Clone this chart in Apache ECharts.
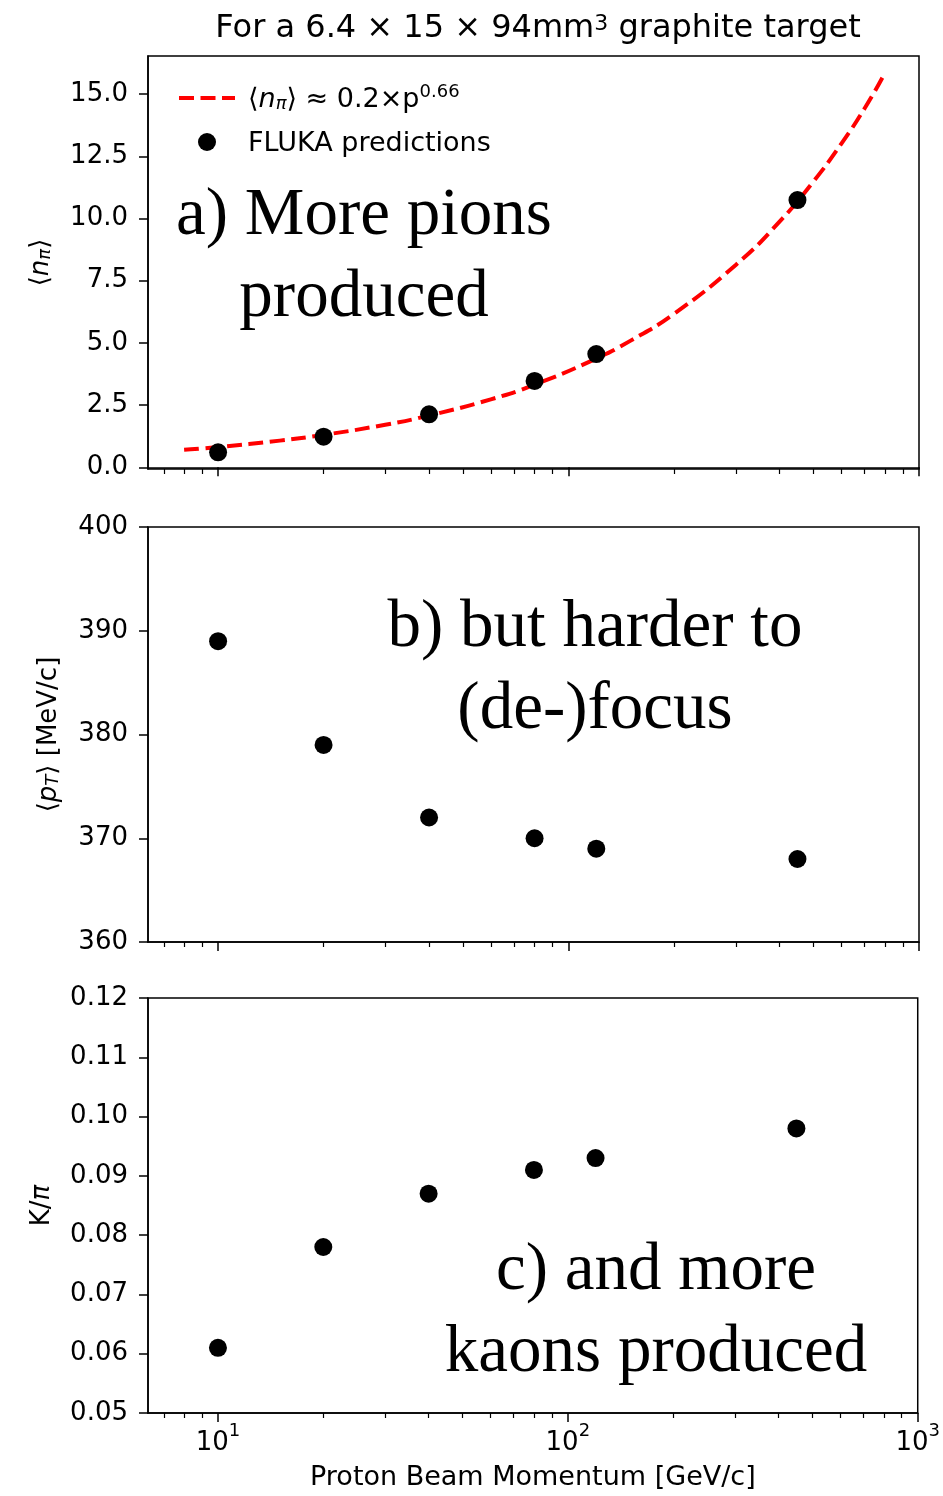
<!DOCTYPE html>
<html>
<head>
<meta charset="utf-8">
<script src="https://cdn.jsdelivr.net/npm/echarts@6/dist/echarts.min.js"></script>
<style>
  html, body { margin: 0; padding: 0; background: #ffffff; }
  #chart { width: 943px; height: 1496px; }
</style>
</head>
<body>
<div id="chart"></div>
<script>
// Proton beam momenta simulated (GeV/c)
const momentum = [10, 20, 40, 80, 120, 450];
// FLUKA: mean pion multiplicity per proton
const pionMultiplicity = [0.60, 1.23, 2.13, 3.47, 4.55, 10.74];
// FLUKA: mean transverse momentum of pions (MeV/c)
const meanPt = [389, 379, 372, 370, 369, 368];
// FLUKA: kaon to pion ratio
const kaonPionRatio = [0.061, 0.078, 0.087, 0.091, 0.093, 0.098];

// Power-law fit curve, <n_pi> ~ 0.2 x p^0.66
const fitMomentum = [8, 10, 15, 20, 30, 40, 60, 80, 120, 150, 200, 300, 400, 500, 600, 700, 787];
const fitMultiplicity = [0.70, 0.81, 1.07, 1.30, 1.71, 2.08, 2.73, 3.32, 4.37, 5.08, 6.17, 8.13, 9.87, 11.49, 13.00, 14.43, 15.67];

// Tick values
const momentumMajorTicks = [10, 100, 1000];
const momentumMinorTicks = [7, 8, 9, 20, 30, 40, 50, 60, 70, 80, 90, 200, 300, 400, 500, 600, 700, 800, 900];
const pionTicks = [0, 2.5, 5, 7.5, 10, 12.5, 15];
const ptTicks = [360, 370, 380, 390, 400];
const ratioTicks = [0.05, 0.06, 0.07, 0.08, 0.09, 0.10, 0.11, 0.12];

const SANS = 'DejaVu Sans';
const INK = '#000000';
const TICK_FONT = 26;
const FIT_DASH = { color: '#ff0000', width: 4, type: [15, 6.5] };

const grids = [
  { left: 148, top: 56, width: 771, height: 413 },
  { left: 148, top: 527, width: 771, height: 415 },
  { left: 148, top: 998, width: 771, height: 415 }
];

const supLabel = function (v) {
  const e = Math.round(Math.log10(v));
  return '{b|10}{s|' + e + '}';
};

function xAxesFor(gridIndex, withLabels) {
  const major = {
    type: 'log', logBase: 10, gridIndex: gridIndex,
    min: 6.31, max: 1000,
    position: 'bottom',
    axisLine: { show: true, lineStyle: { color: INK, width: 1.5 } },
    splitLine: { show: false },
    axisTick: { show: true, inside: false, length: 9, customValues: momentumMajorTicks,
                lineStyle: { color: INK, width: 1.5 } },
    axisLabel: {
      show: withLabels, customValues: momentumMajorTicks, margin: 9,
      formatter: supLabel,
      rich: {
        b: { fontFamily: SANS, fontSize: TICK_FONT, color: INK, lineHeight: 34, verticalAlign: 'bottom' },
        s: { fontFamily: SANS, fontSize: 18, color: INK, lineHeight: 20, verticalAlign: 'top' }
      }
    }
  };
  if (withLabels) {
    major.name = 'Proton Beam Momentum [GeV/c]';
    major.nameLocation = 'middle';
    major.nameGap = 51;
    major.nameTextStyle = { fontFamily: SANS, fontSize: 27, color: INK };
  }
  const minor = {
    type: 'log', logBase: 10, gridIndex: gridIndex,
    min: 6.31, max: 1000,
    position: 'bottom',
    axisLine: { show: false },
    splitLine: { show: false },
    axisTick: { show: true, inside: false, length: 5, customValues: momentumMinorTicks,
                lineStyle: { color: INK, width: 1.2 } },
    axisLabel: { show: false }
  };
  return [major, minor];
}

const mathRich = {
  it: { fontFamily: SANS, fontStyle: 'italic', fontSize: 26, color: INK },
  sub: { fontFamily: SANS, fontStyle: 'italic', fontSize: 18, color: INK, verticalAlign: 'bottom', lineHeight: 16 },
  n: { fontFamily: SANS, fontSize: 26, color: INK }
};

function yAxisFor(gridIndex, min, max, ticks, fmt, name, nameGap) {
  return {
    type: 'value', gridIndex: gridIndex, min: min, max: max,
    axisLine: { show: true, lineStyle: { color: INK, width: 1.5 } },
    splitLine: { show: false },
    axisTick: { show: true, inside: false, length: 9, customValues: ticks,
                lineStyle: { color: INK, width: 1.5 } },
    axisLabel: { customValues: ticks, margin: 20, formatter: fmt,
                 fontFamily: SANS, fontSize: TICK_FONT, color: INK },
    name: name, nameLocation: 'middle', nameRotate: 90, nameGap: nameGap,
    nameTextStyle: { fontFamily: SANS, fontSize: 26, color: INK, rich: mathRich }
  };
}

const xAxes = [].concat(xAxesFor(0, false), xAxesFor(1, false), xAxesFor(2, true));

const yAxes = [
  yAxisFor(0, -0.07, 16.53, pionTicks, function (v) { return v.toFixed(1); },
           '{n|⟨}{it|n}{sub|π}{n|⟩}', 94),
  yAxisFor(1, 360, 400, ptTicks, function (v) { return String(Math.round(v)); },
           '{n|⟨}{it|p}{sub|T}{n|⟩ [MeV/c]}', 86),
  yAxisFor(2, 0.05, 0.12, ratioTicks, function (v) { return v.toFixed(2); },
           '{n|K/}{it|π}', 93)
];

function zip(xs, ys) { return xs.map(function (x, i) { return [x, ys[i]]; }); }

const dotStyle = { color: INK, opacity: 1 };
const ANNOT_FONT = '67px "Liberation Serif"';

const option = {
  backgroundColor: '#ffffff',
  animation: false,
  title: {
    text: 'For a 6.4 × 15 × 94mm{s|3} graphite target',
    left: 533, top: 8, textAlign: 'center',
    textStyle: {
      fontFamily: SANS, fontSize: 32, fontWeight: 'normal', color: INK,
      rich: {
        s: { fontFamily: SANS, fontSize: 22, color: INK, verticalAlign: 'top', lineHeight: 22 }
      }
    }
  },
  legend: {
    show: true,
    left: 172, top: 78, orient: 'vertical',
    itemWidth: 56, itemHeight: 18, itemGap: 17,
    data: [
      { name: 'fit', itemStyle: { opacity: 0 }, lineStyle: FIT_DASH },
      'FLUKA predictions'
    ],
    formatter: function (name) {
      if (name === 'fit') return '{n|⟨}{it|n}{sub|π}{n|⟩ ≈ 0.2×p}{sup|0.66}';
      return '{n|' + name + '}';
    },
    textStyle: {
      padding: [0, 0, 0, 8],
      rich: {
        n: { fontFamily: SANS, fontSize: 27, color: INK, lineHeight: 30, verticalAlign: 'bottom' },
        it: { fontFamily: SANS, fontStyle: 'italic', fontSize: 27, color: INK, lineHeight: 30, verticalAlign: 'bottom' },
        sub: { fontFamily: SANS, fontStyle: 'italic', fontSize: 18, color: INK, lineHeight: 18, verticalAlign: 'bottom' },
        sup: { fontFamily: SANS, fontSize: 18, color: INK, lineHeight: 20, verticalAlign: 'top' }
      }
    }
  },
  grid: grids.map(function (g) {
    return Object.assign({ show: true, borderColor: INK, borderWidth: 1.5, backgroundColor: 'transparent' }, g);
  }),
  xAxis: xAxes,
  yAxis: yAxes,
  graphic: [
    { type: 'text', z: 100,
      style: { text: 'a) More pions\nproduced', x: 364, y: 175, align: 'center', verticalAlign: 'top',
               font: ANNOT_FONT, lineHeight: 82, fill: INK } },
    { type: 'text', z: 100,
      style: { text: 'b) but harder to\n(de-)focus', x: 595, y: 587, align: 'center', verticalAlign: 'top',
               font: ANNOT_FONT, lineHeight: 82, fill: INK } },
    { type: 'text', z: 100,
      style: { text: 'c) and more\nkaons produced', x: 656, y: 1230, align: 'center', verticalAlign: 'top',
               font: ANNOT_FONT, lineHeight: 82, fill: INK } }
  ],
  series: [
    {
      name: 'fit', type: 'line', xAxisIndex: 0, yAxisIndex: 0,
      data: zip(fitMomentum, fitMultiplicity),
      smooth: true, showSymbol: false, symbol: 'none',
      lineStyle: FIT_DASH,
      itemStyle: { color: '#ff0000' },
      z: 2
    },
    {
      name: 'FLUKA predictions', type: 'scatter', xAxisIndex: 0, yAxisIndex: 0,
      data: zip(momentum, pionMultiplicity), symbolSize: 18, itemStyle: dotStyle, z: 3
    },
    {
      name: 'pt', type: 'scatter', xAxisIndex: 2, yAxisIndex: 1,
      data: zip(momentum, meanPt), symbolSize: 18, itemStyle: dotStyle, z: 3
    },
    {
      name: 'ratio', type: 'scatter', xAxisIndex: 4, yAxisIndex: 2,
      data: zip(momentum, kaonPionRatio), symbolSize: 18, itemStyle: dotStyle, z: 3
    }
  ]
};

const chart = echarts.init(document.getElementById('chart'), null, { renderer: 'canvas' });
chart.setOption(option);
</script>
</body>
</html>
